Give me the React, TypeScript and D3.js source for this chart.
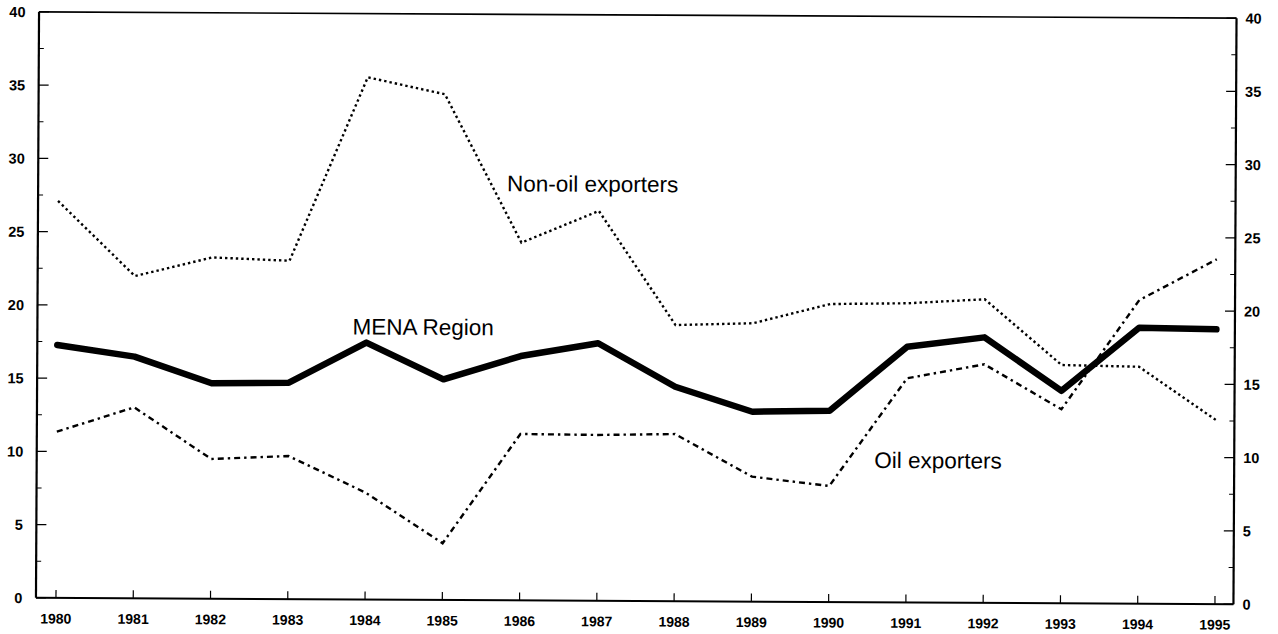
import React from "react";
import * as d3 from "d3";

const years = [1980, 1981, 1982, 1983, 1984, 1985, 1986, 1987, 1988, 1989, 1990, 1991, 1992, 1993, 1994, 1995];
const menaRegion = [17.27, 16.5, 14.71, 14.78, 17.54, 15.06, 16.68, 17.58, 14.64, 12.96, 13.06, 17.45, 18.12, 14.5, 18.83, 18.75];
const nonOilExporters = [27.1, 22.0, 23.3, 23.1, 35.65, 34.52, 24.42, 26.61, 18.85, 19.0, 20.34, 20.42, 20.72, 16.26, 16.17, 12.56];
const oilExporters = [11.35, 13.04, 9.54, 9.77, 7.3, 3.87, 11.36, 11.32, 11.41, 8.53, 7.92, 15.3, 16.28, 13.24, 20.72, 23.53];
const yTicks = [0, 5, 10, 15, 20, 25, 30, 35, 40];
const yMinorTicks = [2.5, 7.5, 12.5, 17.5, 22.5, 27.5, 32.5, 37.5];

const labels = [
  { text: "MENA Region", year: 1983.82, value: 18.09 },
  { text: "Non-oil exporters", year: 1985.81, value: 27.92 },
  { text: "Oil exporters", year: 1990.58, value: 9.17 },
];

const W = 1278;
const H = 634;
const left = 37.5;
const right = 1235;
const top = 15;
const bottom = 601;

export default function App() {
  const x = d3.scaleLinear().domain([1980, 1995]).range([57.5, 1216.5]);
  const y = d3.scaleLinear().domain([0, 40]).range([bottom, top]);

  const line = (vals: number[]) =>
    d3.line<number>()
      .x((_, i) => x(years[i]))
      .y((d) => y(d))(vals) as string;

  const tickFont = "'Liberation Sans', Arial, sans-serif";

  return (
    <svg width={W} height={H} style={{ position: "absolute", left: 0, top: 0, background: "#fff" }}>
      <rect x={0} y={0} width={W} height={H} fill="#fff" />
      <g transform="rotate(0.3, 636, 308)">
        <line x1={left} x2={right} y1={top} y2={top} stroke="#000" strokeWidth={1.6} />
        <line x1={left} x2={right} y1={bottom} y2={bottom} stroke="#000" strokeWidth={2} />
        <line x1={left} x2={left} y1={top} y2={bottom} stroke="#000" strokeWidth={2.2} />
        <line x1={right} x2={right} y1={top} y2={bottom} stroke="#000" strokeWidth={2.2} />

        {yTicks.map((t) => (
          <g key={"yt" + t}>
            <line x1={left} x2={left + 10} y1={y(t)} y2={y(t)} stroke="#000" strokeWidth={1.2} />
            <line x1={right - 10} x2={right} y1={y(t)} y2={y(t)} stroke="#000" strokeWidth={1.2} />
            <text x={24} y={y(t)} dy="0.36em" textAnchor="end" fontFamily={tickFont} fontWeight="bold" fontSize={14.5} fill="#000">{t}</text>
            <text x={1244} y={y(t)} dy="0.36em" textAnchor="start" fontFamily={tickFont} fontWeight="bold" fontSize={14.5} fill="#000">{t}</text>
          </g>
        ))}
        {yMinorTicks.map((t) => (
          <g key={"ym" + t}>
            <line x1={left} x2={left + 5} y1={y(t)} y2={y(t)} stroke="#000" strokeWidth={1} />
            <line x1={right - 5} x2={right} y1={y(t)} y2={y(t)} stroke="#000" strokeWidth={1} />
          </g>
        ))}

        {years.map((yr) => (
          <g key={"xt" + yr}>
            <line x1={x(yr)} x2={x(yr)} y1={bottom} y2={bottom - 8} stroke="#000" strokeWidth={1.2} />
            <text x={x(yr)} y={626.5} textAnchor="middle" fontFamily={tickFont} fontWeight="bold" fontSize={14} fill="#000">{yr}</text>
          </g>
        ))}

        <path d={line(nonOilExporters)} fill="none" stroke="#000" strokeWidth={2.4} strokeDasharray="2.4,3" />
        <path d={line(oilExporters)} fill="none" stroke="#000" strokeWidth={2.4} strokeDasharray="6,4,2.4,4" />
        <path d={line(menaRegion)} fill="none" stroke="#000" strokeWidth={6.5} strokeLinejoin="round" strokeLinecap="round" />

        {labels.map((l) => (
          <text key={l.text} x={x(l.year)} y={y(l.value)} fontFamily={tickFont} fontSize={22.5} fill="#000">{l.text}</text>
        ))}
      </g>
    </svg>
  );
}
